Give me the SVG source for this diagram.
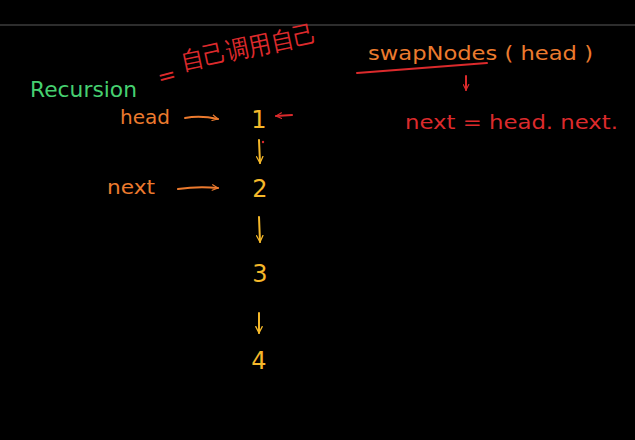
<svg xmlns="http://www.w3.org/2000/svg" width="635" height="440" viewBox="0 0 635 440">
<style>
.t{font-family:"DejaVu Sans","Liberation Sans",sans-serif;font-weight:normal}
.or{fill:#ec7a2e}
.rd{fill:#dc2a2c}
.yl{fill:#f5b82a}
.gr{fill:#46d070}
.ln{fill:none;stroke-width:2;stroke-linecap:round;stroke-linejoin:round}
</style>
<defs>
<marker id="ao" viewBox="0 0 10 10" refX="9" refY="5" markerWidth="7" markerHeight="7" orient="auto" markerUnits="userSpaceOnUse"><path d="M1,1 L9,5 L1,9" fill="none" stroke="#ec7a2e" stroke-width="1.6" stroke-linecap="round"/></marker>
<marker id="ar" viewBox="0 0 10 10" refX="9" refY="5" markerWidth="7" markerHeight="7" orient="auto" markerUnits="userSpaceOnUse"><path d="M1,1 L9,5 L1,9" fill="none" stroke="#dc2a2c" stroke-width="1.6" stroke-linecap="round"/></marker>
<marker id="ay" viewBox="0 0 10 10" refX="9" refY="5" markerWidth="8" markerHeight="8" orient="auto" markerUnits="userSpaceOnUse"><path d="M1,1 L9,5 L1,9" fill="none" stroke="#f5b82a" stroke-width="1.6" stroke-linecap="round"/></marker>
</defs>
<rect width="635" height="440" fill="#000"/>
<line x1="0" y1="25" x2="635" y2="25" stroke="#5a5a5a" stroke-width="1"/>

<g id="recursion">
<text class="t gr" x="30" y="97" font-size="22" textLength="107" lengthAdjust="spacingAndGlyphs">Recursion</text>
<text class="t rd" x="158" y="84" font-size="22" transform="rotate(-15 164 78)">=</text>
<text class="t rd" x="183" y="70" font-size="25" textLength="138" lengthAdjust="spacingAndGlyphs" transform="rotate(-12 183 70)" font-family="'Noto Sans CJK SC',sans-serif">自己调用自己</text>
</g>

<g id="swapNodes">
<text class="t or" x="368" y="60" font-size="20" textLength="225" lengthAdjust="spacingAndGlyphs">swapNodes ( head )</text>
<path class="ln" d="M357,73 Q420,68 487,63" stroke="#dc2a2c"/>
</g>

<g id="nextAssign">
<text class="t rd" x="405" y="129" font-size="20" textLength="213" lengthAdjust="spacingAndGlyphs">next = head. next.</text>
</g>

<g id="headLabel"><text class="t or" x="120" y="124" font-size="20" textLength="50" lengthAdjust="spacingAndGlyphs">head</text></g>
<g id="nextLabel"><text class="t or" x="107" y="194" font-size="20" textLength="48" lengthAdjust="spacingAndGlyphs">next</text></g>

<g id="node1"><text class="t yl" x="259" y="128" font-size="24" text-anchor="middle">1</text></g>
<g id="node2"><text class="t yl" x="260" y="197" font-size="24" text-anchor="middle">2</text></g>
<g id="node3"><text class="t yl" x="260" y="282" font-size="24" text-anchor="middle">3</text></g>
<g id="node4"><text class="t yl" x="259" y="369" font-size="24" text-anchor="middle">4</text></g>

<g id="connectors">
<path class="ln" d="M466,76 L466,90" stroke="#dc2a2c" stroke-width="1.5" marker-end="url(#ar)"/>
<path class="ln" d="M185,118 Q200,115 218,119" stroke="#ec7a2e" marker-end="url(#ao)"/>
<path class="ln" d="M178,189 Q198,186 218,188" stroke="#ec7a2e" marker-end="url(#ao)"/>
<path class="ln" d="M292,115 L276,116" stroke="#dc2a2c" stroke-width="1.5" marker-end="url(#ar)"/>
<path class="ln" d="M259,140 L260,163" stroke="#f5b82a" marker-end="url(#ay)"/>
<circle cx="263" cy="142" r="1.2" fill="#dc2a2c"/>
<path class="ln" d="M259,217 L260,242" stroke="#f5b82a" marker-end="url(#ay)"/>
<path class="ln" d="M259,313 L259,333" stroke="#f5b82a" marker-end="url(#ay)"/>
</g>
</svg>
